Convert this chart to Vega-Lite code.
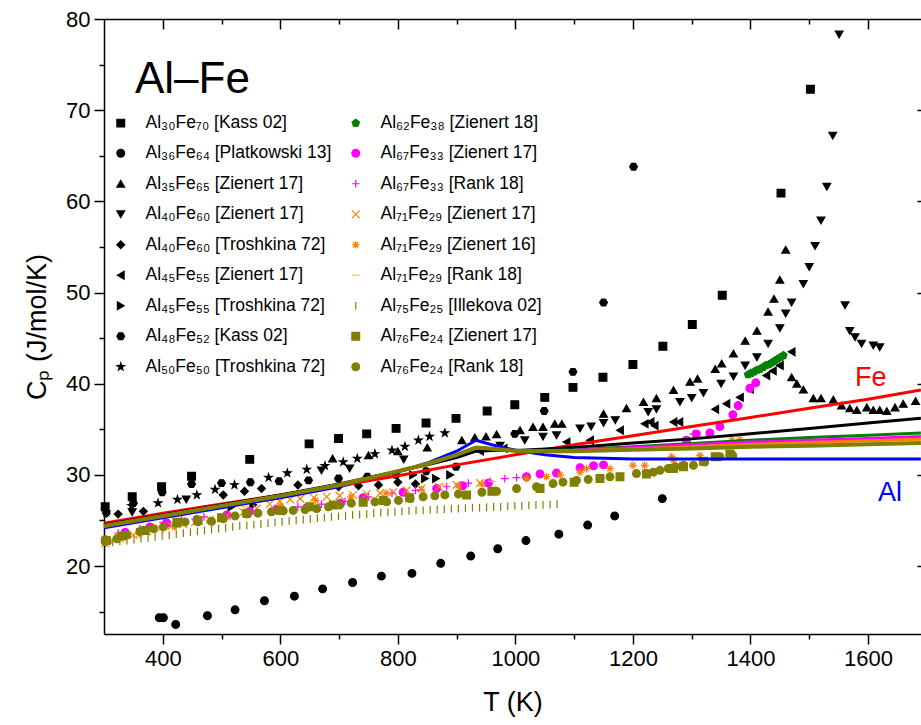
{
  "$schema": "https://vega.github.io/schema/vega-lite/v6.json",
  "width": 817,
  "height": 615,
  "autosize": {"type": "none"},
  "padding": {"left": 104, "top": 19, "right": 0, "bottom": 91},
  "background": "white",
  "config": {
    "view": {"stroke": null},
    "font": "Liberation Sans",
    "axis": {"labelFont": "Liberation Sans", "titleFont": "Liberation Sans", "labelColor": "black", "titleColor": "black", "domainColor": "black", "tickColor": "black", "domainWidth": 1.5, "tickWidth": 1.5, "grid": false, "titleFontWeight": "normal"},
    "text": {"font": "Liberation Sans"}
  },
  "datasets": {
    "pts": [
      {"s":"a","T":302,"Cp":26.5},{"s":"a","T":348,"Cp":27.6},{"s":"a","T":398,"Cp":28.7},{"s":"a","T":449,"Cp":29.85},{"s":"a","T":548,"Cp":31.7},{"s":"a","T":649,"Cp":33.4},{"s":"a","T":699,"Cp":34.0},{"s":"a","T":747,"Cp":34.5},{"s":"a","T":797,"Cp":35.1},{"s":"a","T":848,"Cp":35.7},{"s":"a","T":899,"Cp":36.2},{"s":"a","T":952,"Cp":37.0},{"s":"a","T":999,"Cp":37.7},{"s":"a","T":1050,"Cp":38.5},{"s":"a","T":1098,"Cp":39.6},{"s":"a","T":1149,"Cp":40.7},{"s":"a","T":1200,"Cp":42.1},{"s":"a","T":1251,"Cp":44.1},{"s":"a","T":1301,"Cp":46.5},{"s":"a","T":1352,"Cp":49.7},{"s":"a","T":1452,"Cp":60.9},{"s":"a","T":1502,"Cp":72.3},
      {"s":"b","T":394,"Cp":14.34},{"s":"b","T":401,"Cp":14.34},{"s":"b","T":422,"Cp":13.6},{"s":"b","T":476,"Cp":14.56},{"s":"b","T":523,"Cp":15.2},{"s":"b","T":573,"Cp":16.2},{"s":"b","T":624,"Cp":16.7},{"s":"b","T":672,"Cp":17.5},{"s":"b","T":723,"Cp":18.2},{"s":"b","T":772,"Cp":18.9},{"s":"b","T":824,"Cp":19.2},{"s":"b","T":873,"Cp":20.3},{"s":"b","T":924,"Cp":21.1},{"s":"b","T":970,"Cp":21.9},{"s":"b","T":1018,"Cp":22.8},{"s":"b","T":1074,"Cp":23.5},{"s":"b","T":1123,"Cp":24.5},{"s":"b","T":1169,"Cp":25.5},{"s":"b","T":1250,"Cp":27.4},
      {"s":"c","T":689,"Cp":31.8},{"s":"c","T":750,"Cp":32.15},{"s":"c","T":800,"Cp":32.6},{"s":"c","T":850,"Cp":33.0},{"s":"c","T":909,"Cp":33.8},{"s":"c","T":931,"Cp":34.1},{"s":"c","T":950,"Cp":34.2},{"s":"c","T":968,"Cp":34.45},{"s":"c","T":1008,"Cp":34.9},{"s":"c","T":1030,"Cp":35.25},{"s":"c","T":1047,"Cp":35.25},{"s":"c","T":1067,"Cp":35.6},{"s":"c","T":1079,"Cp":35.6},{"s":"c","T":1150,"Cp":36.7},{"s":"c","T":1189,"Cp":37.3},{"s":"c","T":1218,"Cp":38.0},{"s":"c","T":1240,"Cp":38.4},{"s":"c","T":1269,"Cp":39.3},{"s":"c","T":1297,"Cp":40.2},{"s":"c","T":1310,"Cp":40.55},{"s":"c","T":1340,"Cp":41.6},{"s":"c","T":1351,"Cp":42.2},{"s":"c","T":1371,"Cp":43.3},{"s":"c","T":1391,"Cp":44.7},{"s":"c","T":1411,"Cp":45.8},{"s":"c","T":1430,"Cp":47.9},{"s":"c","T":1440,"Cp":49.3},{"s":"c","T":1450,"Cp":51.4},{"s":"c","T":1460,"Cp":54.7},{"s":"c","T":1470,"Cp":40.7},{"s":"c","T":1479,"Cp":40.0},{"s":"c","T":1490,"Cp":39.35},{"s":"c","T":1507,"Cp":38.4},{"s":"c","T":1520,"Cp":38.4},{"s":"c","T":1541,"Cp":38.25},{"s":"c","T":1555,"Cp":37.6},{"s":"c","T":1569,"Cp":37.3},{"s":"c","T":1581,"Cp":37.1},{"s":"c","T":1598,"Cp":37.4},{"s":"c","T":1609,"Cp":37.1},{"s":"c","T":1620,"Cp":37.1},{"s":"c","T":1632,"Cp":37.0},{"s":"c","T":1646,"Cp":37.4},{"s":"c","T":1660,"Cp":37.8},{"s":"c","T":1681,"Cp":38.1},
      {"s":"d","T":348,"Cp":25.9},{"s":"d","T":440,"Cp":27.3},{"s":"d","T":670,"Cp":30.5},{"s":"d","T":718,"Cp":30.7},{"s":"d","T":810,"Cp":31.7},{"s":"d","T":974,"Cp":33.2},{"s":"d","T":1016,"Cp":33.8},{"s":"d","T":1047,"Cp":34.2},{"s":"d","T":1070,"Cp":34.35},{"s":"d","T":1110,"Cp":35.1},{"s":"d","T":1129,"Cp":35.3},{"s":"d","T":1150,"Cp":35.7},{"s":"d","T":1170,"Cp":36.0},{"s":"d","T":1226,"Cp":36.9},{"s":"d","T":1240,"Cp":37.2},{"s":"d","T":1280,"Cp":38.0},{"s":"d","T":1300,"Cp":38.45},{"s":"d","T":1320,"Cp":39.0},{"s":"d","T":1350,"Cp":40.0},{"s":"d","T":1371,"Cp":40.8},{"s":"d","T":1391,"Cp":42.0},{"s":"d","T":1411,"Cp":42.9},{"s":"d","T":1430,"Cp":44.4},{"s":"d","T":1450,"Cp":46.1},{"s":"d","T":1460,"Cp":47.7},{"s":"d","T":1470,"Cp":48.9},{"s":"d","T":1490,"Cp":50.95},{"s":"d","T":1500,"Cp":52.8},{"s":"d","T":1510,"Cp":55.1},{"s":"d","T":1520,"Cp":57.9},{"s":"d","T":1530,"Cp":61.6},{"s":"d","T":1540,"Cp":67.2},{"s":"d","T":1551,"Cp":78.3},{"s":"d","T":1561,"Cp":48.6},{"s":"d","T":1569,"Cp":45.8},{"s":"d","T":1578,"Cp":45.1},{"s":"d","T":1589,"Cp":44.4},{"s":"d","T":1609,"Cp":44.2},{"s":"d","T":1620,"Cp":44.0},
      {"s":"e","T":304,"Cp":25.8},{"s":"e","T":324,"Cp":25.7},{"s":"e","T":367,"Cp":26.0},{"s":"e","T":503,"Cp":27.8},{"s":"e","T":539,"Cp":28.2},{"s":"e","T":568,"Cp":28.5},{"s":"e","T":630,"Cp":28.9},{"s":"e","T":699,"Cp":28.7},{"s":"e","T":733,"Cp":28.8},{"s":"e","T":767,"Cp":28.9},{"s":"e","T":800,"Cp":29.2},{"s":"e","T":830,"Cp":29.0},
      {"s":"f","T":940,"Cp":32.6},{"s":"f","T":980,"Cp":32.9},{"s":"f","T":1087,"Cp":33.6},{"s":"f","T":1127,"Cp":33.8},{"s":"f","T":1178,"Cp":34.9},{"s":"f","T":1220,"Cp":35.6},{"s":"f","T":1230,"Cp":35.8},{"s":"f","T":1237,"Cp":35.4},{"s":"f","T":1269,"Cp":35.8},{"s":"f","T":1279,"Cp":35.8},{"s":"f","T":1340,"Cp":37.2},{"s":"f","T":1359,"Cp":37.8},{"s":"f","T":1382,"Cp":38.5},{"s":"f","T":1399,"Cp":39.4},{"s":"f","T":1427,"Cp":40.9},{"s":"f","T":1438,"Cp":41.4},{"s":"f","T":1450,"Cp":42.0},{"s":"f","T":1470,"Cp":43.5},
      {"s":"g","T":517,"Cp":26.5},{"s":"g","T":554,"Cp":26.7},{"s":"g","T":826,"Cp":30.0},{"s":"g","T":846,"Cp":29.6},{"s":"g","T":865,"Cp":29.6},{"s":"g","T":889,"Cp":30.0},
      {"s":"h","T":350,"Cp":26.9},{"s":"h","T":399,"Cp":28.1},{"s":"h","T":449,"Cp":29.0},{"s":"h","T":500,"Cp":29.1},{"s":"h","T":549,"Cp":29.2},{"s":"h","T":598,"Cp":29.3},{"s":"h","T":648,"Cp":29.4},{"s":"h","T":699,"Cp":29.6},{"s":"h","T":748,"Cp":29.8},{"s":"h","T":797,"Cp":30.0},{"s":"h","T":848,"Cp":30.4},{"s":"h","T":899,"Cp":30.9},{"s":"h","T":999,"Cp":34.5},{"s":"h","T":1049,"Cp":37.0},{"s":"h","T":1098,"Cp":41.3},{"s":"h","T":1150,"Cp":48.9},{"s":"h","T":1201,"Cp":63.8},
      {"s":"i","T":304,"Cp":25.9},{"s":"i","T":347,"Cp":26.6},{"s":"i","T":392,"Cp":26.9},{"s":"i","T":425,"Cp":27.3},{"s":"i","T":458,"Cp":27.8},{"s":"i","T":489,"Cp":28.4},{"s":"i","T":522,"Cp":28.9},{"s":"i","T":580,"Cp":29.7},{"s":"i","T":612,"Cp":30.2},{"s":"i","T":645,"Cp":30.6},{"s":"i","T":676,"Cp":31.0},{"s":"i","T":707,"Cp":31.4},{"s":"i","T":731,"Cp":31.8},{"s":"i","T":761,"Cp":32.3},{"s":"i","T":790,"Cp":32.7},{"s":"i","T":812,"Cp":33.1},{"s":"i","T":835,"Cp":33.8},{"s":"i","T":854,"Cp":34.2},{"s":"i","T":880,"Cp":34.6},
      {"s":"j","T":1396,"Cp":41.0},{"s":"j","T":1401,"Cp":41.15},{"s":"j","T":1406,"Cp":41.3},{"s":"j","T":1411,"Cp":41.5},{"s":"j","T":1416,"Cp":41.6},{"s":"j","T":1421,"Cp":41.8},{"s":"j","T":1426,"Cp":42.0},{"s":"j","T":1431,"Cp":42.1},{"s":"j","T":1436,"Cp":42.3},{"s":"j","T":1441,"Cp":42.5},{"s":"j","T":1446,"Cp":42.7},{"s":"j","T":1451,"Cp":42.9},{"s":"j","T":1456,"Cp":43.1},
      {"s":"k","T":302,"Cp":22.9},{"s":"k","T":336,"Cp":23.7},{"s":"k","T":378,"Cp":24.3},{"s":"k","T":407,"Cp":24.7},{"s":"k","T":458,"Cp":25.1},{"s":"k","T":509,"Cp":25.6},{"s":"k","T":548,"Cp":26.0},{"s":"k","T":594,"Cp":26.2},{"s":"k","T":645,"Cp":26.4},{"s":"k","T":702,"Cp":26.9},{"s":"k","T":741,"Cp":27.5},{"s":"k","T":809,"Cp":28.1},{"s":"k","T":866,"Cp":28.5},{"s":"k","T":910,"Cp":28.8},{"s":"k","T":954,"Cp":29.1},{"s":"k","T":1019,"Cp":29.8},{"s":"k","T":1042,"Cp":30.1},{"s":"k","T":1070,"Cp":30.2},{"s":"k","T":1110,"Cp":30.8},{"s":"k","T":1133,"Cp":31.0},{"s":"k","T":1150,"Cp":31.1},{"s":"k","T":1291,"Cp":33.8},{"s":"k","T":1308,"Cp":34.5},{"s":"k","T":1331,"Cp":34.6},{"s":"k","T":1348,"Cp":35.3},{"s":"k","T":1370,"Cp":36.6},{"s":"k","T":1379,"Cp":37.6},{"s":"k","T":1399,"Cp":39.5},{"s":"k","T":1409,"Cp":40.1},
      {"s":"l","T":324,"Cp":23.6},{"s":"l","T":361,"Cp":24.1},{"s":"l","T":401,"Cp":24.8},{"s":"l","T":432,"Cp":25.1},{"s":"l","T":470,"Cp":25.4},{"s":"l","T":510,"Cp":25.7},{"s":"l","T":550,"Cp":26.0},{"s":"l","T":590,"Cp":26.3},{"s":"l","T":630,"Cp":26.5},{"s":"l","T":670,"Cp":26.8},{"s":"l","T":710,"Cp":27.1},{"s":"l","T":750,"Cp":27.6},{"s":"l","T":790,"Cp":28.0},{"s":"l","T":830,"Cp":28.3},{"s":"l","T":883,"Cp":28.7},{"s":"l","T":920,"Cp":29.1},{"s":"l","T":957,"Cp":29.3},{"s":"l","T":982,"Cp":29.6},{"s":"l","T":1002,"Cp":29.7},{"s":"l","T":1303,"Cp":34.5},{"s":"l","T":1348,"Cp":35.3},
      {"s":"m","T":302,"Cp":22.5},{"s":"m","T":327,"Cp":23.0},{"s":"m","T":350,"Cp":23.4},{"s":"m","T":373,"Cp":23.8},{"s":"m","T":395,"Cp":24.1},{"s":"m","T":415,"Cp":24.4},{"s":"m","T":435,"Cp":24.6},{"s":"m","T":455,"Cp":24.8},{"s":"m","T":480,"Cp":25.1},{"s":"m","T":509,"Cp":25.5},{"s":"m","T":537,"Cp":25.9},{"s":"m","T":560,"Cp":26.3},{"s":"m","T":582,"Cp":26.8},{"s":"m","T":599,"Cp":27.1},{"s":"m","T":617,"Cp":27.3},{"s":"m","T":634,"Cp":27.4},{"s":"m","T":657,"Cp":27.5},{"s":"m","T":679,"Cp":27.6},{"s":"m","T":701,"Cp":27.7},{"s":"m","T":724,"Cp":27.8},{"s":"m","T":747,"Cp":27.9},{"s":"m","T":770,"Cp":28.0},{"s":"m","T":792,"Cp":28.1},{"s":"m","T":815,"Cp":28.3},{"s":"m","T":840,"Cp":28.5},{"s":"m","T":870,"Cp":28.7},{"s":"m","T":900,"Cp":28.9},{"s":"m","T":940,"Cp":29.1},
      {"s":"n","T":310,"Cp":22.7},{"s":"n","T":360,"Cp":23.5},{"s":"n","T":420,"Cp":24.3},{"s":"n","T":480,"Cp":25.0},{"s":"n","T":540,"Cp":25.8},{"s":"n","T":600,"Cp":26.6},{"s":"n","T":660,"Cp":27.2},{"s":"n","T":720,"Cp":27.6},{"s":"n","T":780,"Cp":28.0},{"s":"n","T":840,"Cp":28.4},{"s":"n","T":903,"Cp":28.8},{"s":"n","T":943,"Cp":29.0},{"s":"n","T":1019,"Cp":29.6},{"s":"n","T":1053,"Cp":29.8},{"s":"n","T":1076,"Cp":30.0},{"s":"n","T":1110,"Cp":30.3},{"s":"n","T":1121,"Cp":30.7},{"s":"n","T":1161,"Cp":30.7},{"s":"n","T":1200,"Cp":31.05},{"s":"n","T":1220,"Cp":31.05},{"s":"n","T":1266,"Cp":32.0},{"s":"n","T":1269,"Cp":31.6},{"s":"n","T":1314,"Cp":32.15},{"s":"n","T":1368,"Cp":33.8},{"s":"n","T":1382,"Cp":33.9},
      {"s":"o","T":540,"Cp":26.5},{"s":"o","T":880,"Cp":28.9},{"s":"o","T":960,"Cp":29.3},
      {"s":"p","T":303,"Cp":22.5},{"s":"p","T":315,"Cp":22.6},{"s":"p","T":327,"Cp":22.7},{"s":"p","T":339,"Cp":22.8},{"s":"p","T":351,"Cp":22.9},{"s":"p","T":363,"Cp":23.0},{"s":"p","T":375,"Cp":23.1},{"s":"p","T":387,"Cp":23.2},{"s":"p","T":399,"Cp":23.3},{"s":"p","T":411,"Cp":23.4},{"s":"p","T":423,"Cp":23.5},{"s":"p","T":435,"Cp":23.6},{"s":"p","T":447,"Cp":23.7},{"s":"p","T":459,"Cp":23.8},{"s":"p","T":471,"Cp":23.9},{"s":"p","T":483,"Cp":24.0},{"s":"p","T":495,"Cp":24.1},{"s":"p","T":507,"Cp":24.2},{"s":"p","T":519,"Cp":24.3},{"s":"p","T":531,"Cp":24.4},{"s":"p","T":543,"Cp":24.45},{"s":"p","T":555,"Cp":24.55},{"s":"p","T":567,"Cp":24.6},{"s":"p","T":579,"Cp":24.7},{"s":"p","T":591,"Cp":24.8},{"s":"p","T":603,"Cp":24.85},{"s":"p","T":615,"Cp":24.95},{"s":"p","T":627,"Cp":25.0},{"s":"p","T":639,"Cp":25.1},{"s":"p","T":651,"Cp":25.15},{"s":"p","T":663,"Cp":25.25},{"s":"p","T":675,"Cp":25.3},{"s":"p","T":687,"Cp":25.4},{"s":"p","T":699,"Cp":25.45},{"s":"p","T":711,"Cp":25.5},{"s":"p","T":723,"Cp":25.6},{"s":"p","T":735,"Cp":25.65},{"s":"p","T":747,"Cp":25.7},{"s":"p","T":759,"Cp":25.8},{"s":"p","T":771,"Cp":25.85},{"s":"p","T":783,"Cp":25.9},{"s":"p","T":795,"Cp":25.95},{"s":"p","T":807,"Cp":26.0},{"s":"p","T":819,"Cp":26.05},{"s":"p","T":831,"Cp":26.1},{"s":"p","T":843,"Cp":26.1},{"s":"p","T":855,"Cp":26.15},{"s":"p","T":867,"Cp":26.2},{"s":"p","T":879,"Cp":26.25},{"s":"p","T":891,"Cp":26.3},{"s":"p","T":903,"Cp":26.3},{"s":"p","T":915,"Cp":26.35},{"s":"p","T":927,"Cp":26.4},{"s":"p","T":939,"Cp":26.4},{"s":"p","T":951,"Cp":26.45},{"s":"p","T":963,"Cp":26.5},{"s":"p","T":975,"Cp":26.5},{"s":"p","T":987,"Cp":26.55},{"s":"p","T":999,"Cp":26.6},{"s":"p","T":1011,"Cp":26.6},{"s":"p","T":1023,"Cp":26.65},{"s":"p","T":1035,"Cp":26.7},{"s":"p","T":1047,"Cp":26.7},{"s":"p","T":1059,"Cp":26.75},{"s":"p","T":1071,"Cp":26.8},
      {"s":"q","T":304,"Cp":22.8},{"s":"q","T":330,"Cp":23.3},{"s":"q","T":370,"Cp":23.9},{"s":"q","T":424,"Cp":24.8},{"s":"q","T":460,"Cp":25.0},{"s":"q","T":500,"Cp":25.3},{"s":"q","T":543,"Cp":25.8},{"s":"q","T":600,"Cp":26.1},{"s":"q","T":650,"Cp":26.5},{"s":"q","T":690,"Cp":26.7},{"s":"q","T":741,"Cp":27.0},{"s":"q","T":775,"Cp":27.2},{"s":"q","T":820,"Cp":27.5},{"s":"q","T":917,"Cp":27.8},{"s":"q","T":960,"Cp":28.2},{"s":"q","T":1042,"Cp":28.5},{"s":"q","T":1100,"Cp":29.2},{"s":"q","T":1144,"Cp":29.6},{"s":"q","T":1178,"Cp":29.8},{"s":"q","T":1223,"Cp":30.1},{"s":"q","T":1269,"Cp":30.7},{"s":"q","T":1286,"Cp":30.9},{"s":"q","T":1320,"Cp":31.5},{"s":"q","T":1340,"Cp":32.0},{"s":"q","T":1365,"Cp":32.3},
      {"s":"r","T":302,"Cp":22.7},{"s":"r","T":322,"Cp":23.0},{"s":"r","T":339,"Cp":23.4},{"s":"r","T":361,"Cp":23.8},{"s":"r","T":384,"Cp":24.1},{"s":"r","T":401,"Cp":24.3},{"s":"r","T":424,"Cp":24.7},{"s":"r","T":438,"Cp":24.85},{"s":"r","T":460,"Cp":24.85},{"s":"r","T":483,"Cp":24.9},{"s":"r","T":503,"Cp":25.2},{"s":"r","T":523,"Cp":25.5},{"s":"r","T":543,"Cp":25.7},{"s":"r","T":562,"Cp":25.8},{"s":"r","T":585,"Cp":25.95},{"s":"r","T":605,"Cp":26.05},{"s":"r","T":622,"Cp":26.1},{"s":"r","T":642,"Cp":26.2},{"s":"r","T":662,"Cp":26.3},{"s":"r","T":682,"Cp":26.5},{"s":"r","T":701,"Cp":26.7},{"s":"r","T":721,"Cp":26.9},{"s":"r","T":741,"Cp":27.05},{"s":"r","T":761,"Cp":27.05},{"s":"r","T":781,"Cp":27.05},{"s":"r","T":801,"Cp":27.2},{"s":"r","T":821,"Cp":27.4},{"s":"r","T":843,"Cp":27.6},{"s":"r","T":863,"Cp":27.7},{"s":"r","T":880,"Cp":27.8},{"s":"r","T":903,"Cp":27.9},{"s":"r","T":943,"Cp":28.1},{"s":"r","T":968,"Cp":28.2},{"s":"r","T":1002,"Cp":28.5},{"s":"r","T":1036,"Cp":28.7},{"s":"r","T":1064,"Cp":29.05},{"s":"r","T":1081,"Cp":29.2},{"s":"r","T":1104,"Cp":29.4},{"s":"r","T":1124,"Cp":29.5},{"s":"r","T":1144,"Cp":29.6},{"s":"r","T":1161,"Cp":29.8},{"s":"r","T":1206,"Cp":30.15},{"s":"r","T":1223,"Cp":30.15},{"s":"r","T":1235,"Cp":30.3},{"s":"r","T":1246,"Cp":30.5},{"s":"r","T":1260,"Cp":30.7},{"s":"r","T":1272,"Cp":30.9},{"s":"r","T":1286,"Cp":31.05},{"s":"r","T":1303,"Cp":31.05},{"s":"r","T":1322,"Cp":31.4},{"s":"r","T":1348,"Cp":32.0},{"s":"r","T":1370,"Cp":32.15}
    ],
    "lines": [
      {"ln":"Al","T":300,"Cp":24.2},{"ln":"Al","T":400,"Cp":25.3},{"ln":"Al","T":500,"Cp":26.4},{"ln":"Al","T":600,"Cp":27.5},{"ln":"Al","T":700,"Cp":28.7},{"ln":"Al","T":800,"Cp":30.3},{"ln":"Al","T":850,"Cp":31.3},{"ln":"Al","T":900,"Cp":32.6},{"ln":"Al","T":933,"Cp":33.8},{"ln":"Al","T":960,"Cp":33.3},{"ln":"Al","T":1000,"Cp":32.7},{"ln":"Al","T":1050,"Cp":32.2},{"ln":"Al","T":1100,"Cp":31.9},{"ln":"Al","T":1200,"Cp":31.75},{"ln":"Al","T":1400,"Cp":31.75},{"ln":"Al","T":1690,"Cp":31.75},
      {"ln":"Fe","T":300,"Cp":24.7},{"ln":"Fe","T":400,"Cp":25.8},{"ln":"Fe","T":500,"Cp":26.8},{"ln":"Fe","T":600,"Cp":27.8},{"ln":"Fe","T":700,"Cp":28.8},{"ln":"Fe","T":800,"Cp":29.9},{"ln":"Fe","T":900,"Cp":31.1},{"ln":"Fe","T":1000,"Cp":32.2},{"ln":"Fe","T":1100,"Cp":33.3},{"ln":"Fe","T":1200,"Cp":34.3},{"ln":"Fe","T":1300,"Cp":35.3},{"ln":"Fe","T":1400,"Cp":36.3},{"ln":"Fe","T":1500,"Cp":37.3},{"ln":"Fe","T":1600,"Cp":38.3},{"ln":"Fe","T":1690,"Cp":39.3},
      {"ln":"blk","T":300,"Cp":24.5},{"ln":"blk","T":400,"Cp":25.6},{"ln":"blk","T":500,"Cp":26.7},{"ln":"blk","T":600,"Cp":27.8},{"ln":"blk","T":700,"Cp":29.0},{"ln":"blk","T":800,"Cp":30.4},{"ln":"blk","T":850,"Cp":31.1},{"ln":"blk","T":900,"Cp":31.9},{"ln":"blk","T":933,"Cp":32.6},{"ln":"blk","T":970,"Cp":32.7},{"ln":"blk","T":1010,"Cp":32.7},{"ln":"blk","T":1100,"Cp":33.0},{"ln":"blk","T":1200,"Cp":33.5},{"ln":"blk","T":1300,"Cp":33.95},{"ln":"blk","T":1400,"Cp":34.5},{"ln":"blk","T":1500,"Cp":35.1},{"ln":"blk","T":1600,"Cp":35.7},{"ln":"blk","T":1690,"Cp":36.2},
      {"ln":"grn","T":300,"Cp":24.4},{"ln":"grn","T":400,"Cp":25.5},{"ln":"grn","T":500,"Cp":26.6},{"ln":"grn","T":600,"Cp":27.7},{"ln":"grn","T":700,"Cp":28.9},{"ln":"grn","T":800,"Cp":30.4},{"ln":"grn","T":850,"Cp":31.2},{"ln":"grn","T":900,"Cp":32.2},{"ln":"grn","T":933,"Cp":33.0},{"ln":"grn","T":970,"Cp":32.8},{"ln":"grn","T":1010,"Cp":32.6},{"ln":"grn","T":1100,"Cp":32.75},{"ln":"grn","T":1200,"Cp":33.1},{"ln":"grn","T":1300,"Cp":33.45},{"ln":"grn","T":1400,"Cp":33.8},{"ln":"grn","T":1500,"Cp":34.1},{"ln":"grn","T":1600,"Cp":34.35},{"ln":"grn","T":1690,"Cp":34.6},
      {"ln":"mag","T":300,"Cp":24.4},{"ln":"mag","T":400,"Cp":25.5},{"ln":"mag","T":500,"Cp":26.6},{"ln":"mag","T":600,"Cp":27.7},{"ln":"mag","T":700,"Cp":28.9},{"ln":"mag","T":800,"Cp":30.4},{"ln":"mag","T":850,"Cp":31.2},{"ln":"mag","T":900,"Cp":32.2},{"ln":"mag","T":933,"Cp":33.0},{"ln":"mag","T":970,"Cp":32.8},{"ln":"mag","T":1010,"Cp":32.6},{"ln":"mag","T":1100,"Cp":32.7},{"ln":"mag","T":1200,"Cp":33.0},{"ln":"mag","T":1300,"Cp":33.3},{"ln":"mag","T":1400,"Cp":33.6},{"ln":"mag","T":1500,"Cp":33.8},{"ln":"mag","T":1600,"Cp":34.0},{"ln":"mag","T":1690,"Cp":34.2},
      {"ln":"org","T":300,"Cp":24.4},{"ln":"org","T":400,"Cp":25.5},{"ln":"org","T":500,"Cp":26.6},{"ln":"org","T":600,"Cp":27.7},{"ln":"org","T":700,"Cp":28.9},{"ln":"org","T":800,"Cp":30.4},{"ln":"org","T":850,"Cp":31.2},{"ln":"org","T":900,"Cp":32.2},{"ln":"org","T":933,"Cp":33.0},{"ln":"org","T":970,"Cp":32.8},{"ln":"org","T":1010,"Cp":32.6},{"ln":"org","T":1100,"Cp":32.65},{"ln":"org","T":1200,"Cp":32.85},{"ln":"org","T":1300,"Cp":33.1},{"ln":"org","T":1400,"Cp":33.35},{"ln":"org","T":1500,"Cp":33.55},{"ln":"org","T":1600,"Cp":33.75},{"ln":"org","T":1690,"Cp":33.9},
      {"ln":"olv","T":300,"Cp":24.4},{"ln":"olv","T":400,"Cp":25.5},{"ln":"olv","T":500,"Cp":26.6},{"ln":"olv","T":600,"Cp":27.7},{"ln":"olv","T":700,"Cp":28.9},{"ln":"olv","T":800,"Cp":30.4},{"ln":"olv","T":850,"Cp":31.2},{"ln":"olv","T":900,"Cp":32.2},{"ln":"olv","T":933,"Cp":33.0},{"ln":"olv","T":970,"Cp":32.8},{"ln":"olv","T":1010,"Cp":32.6},{"ln":"olv","T":1100,"Cp":32.6},{"ln":"olv","T":1200,"Cp":32.75},{"ln":"olv","T":1300,"Cp":32.9},{"ln":"olv","T":1400,"Cp":33.1},{"ln":"olv","T":1500,"Cp":33.2},{"ln":"olv","T":1600,"Cp":33.35},{"ln":"olv","T":1690,"Cp":33.5}
    ]
  },
  "layer": [
    {
      "data": {"name": "pts"},
      "mark": {"type": "point", "filled": true, "opacity": 1, "size": 60, "strokeWidth": 1.2},
      "encoding": {
        "x": {"field": "T", "type": "quantitative", "scale": {"domain": [300, 1690.2], "nice": false, "zero": false},
          "axis": {"orient": "bottom", "values": [400,500,600,700,800,900,1000,1100,1200,1300,1400,1500,1600], "labelExpr": "datum.value % 200 === 0 ? datum.label : ''", "format": "d", "labelOverlap": false,
            "tickSize": {"condition": {"test": "datum.value % 200 === 0", "value": 10}, "value": 5},
            "labelFontSize": 22, "labelPadding": 4, "title": "T (K)", "titleFontSize": 27, "titlePadding": 20}},
        "y": {"field": "Cp", "type": "quantitative", "scale": {"domain": [12.55, 80], "nice": false, "zero": false},
          "axis": {"orient": "left", "values": [15,20,25,30,35,40,45,50,55,60,65,70,75,80], "labelExpr": "datum.value % 10 === 0 ? datum.label : ''", "labelOverlap": false,
            "tickSize": {"condition": {"test": "datum.value % 10 === 0", "value": 10}, "value": 5},
            "labelFontSize": 22, "labelPadding": 4, "title": "Cₚ (J/mol/K)", "titleFontSize": 27, "titlePadding": 14}},
        "color": {"field": "s", "type": "nominal",
          "scale": {"domain": ["a","b","c","d","e","f","g","h","i","j","k","l","m","n","o","p","q","r"],
                    "range": ["#000000","#000000","#000000","#000000","#000000","#000000","#000000","#000000","#000000","#008000","#FF00FF","#FF00FF","#FF8000","#FF8000","#FFB060","#808000","#808000","#808000"]},
          "legend": {"orient": "none", "legendX": 8, "legendY": 95, "columns": 2, "title": null, "padding": 0,
            "labelFont": "Liberation Sans", "labelFontSize": 17.5, "labelColor": "black", "labelLimit": 400, "labelOffset": 16,
            "rowPadding": 11.5, "columnPadding": 15, "symbolSize": 60, "symbolStrokeWidth": 1.2,
            "encode": {"symbols": {"update": {"stroke": {"scale": "color", "field": "value"}, "strokeWidth": {"value": 1.2}}}},
            "labelExpr": "{'a':'Al₃₀Fe₇₀ [Kass 02]','b':'Al₃₆Fe₆₄ [Platkowski 13]','c':'Al₃₅Fe₆₅ [Zienert 17]','d':'Al₄₀Fe₆₀ [Zienert 17]','e':'Al₄₀Fe₆₀ [Troshkina 72]','f':'Al₄₅Fe₅₅ [Zienert 17]','g':'Al₄₅Fe₅₅ [Troshkina 72]','h':'Al₄₈Fe₅₂ [Kass 02]','i':'Al₅₀Fe₅₀ [Troshkina 72]','j':'Al₆₂Fe₃₈ [Zienert 18]','k':'Al₆₇Fe₃₃ [Zienert 17]','l':'Al₆₇Fe₃₃ [Rank 18]','m':'Al₇₁Fe₂₉ [Zienert 17]','n':'Al₇₁Fe₂₉ [Zienert 16]','o':'Al₇₁Fe₂₉ [Rank 18]','p':'Al₇₅Fe₂₅ [Illekova 02]','q':'Al₇₆Fe₂₄ [Zienert 17]','r':'Al₇₆Fe₂₄ [Rank 18]'}[datum.value]"}},
        "stroke": {"field": "s", "type": "nominal", "legend": null,
          "scale": {"domain": ["a","b","c","d","e","f","g","h","i","j","k","l","m","n","o","p","q","r"],
                    "range": ["#000000","#000000","#000000","#000000","#000000","#000000","#000000","#000000","#000000","#008000","#FF00FF","#FF00FF","#FF8000","#FF8000","#FFB060","#808000","#808000","#808000"]}},
        "shape": {"field": "s", "type": "nominal",
          "scale": {"domain": ["a","b","c","d","e","f","g","h","i","j","k","l","m","n","o","p","q","r"],
                    "range": ["square","circle","triangle-up","triangle-down","diamond","triangle-left","triangle-right","M-0.5,-0.866L0.5,-0.866L1,0L0.5,0.866L-0.5,0.866L-1,0Z","M0,-1L0.2245,-0.309L0.951,-0.309L0.363,0.118L0.588,0.809L0,0.382L-0.588,0.809L-0.363,0.118L-0.951,-0.309L-0.2245,-0.309Z","M0,-1L0.951,-0.309L0.588,0.809L-0.588,0.809L-0.951,-0.309Z","circle","M-1,0L1,0M0,-1L0,1","M-1,-1L1,1M-1,1L1,-1","M-1,0L1,0M0,-1L0,1M-0.7,-0.7L0.7,0.7M-0.7,0.7L0.7,-0.7","M-1,0L1,0","M0,-1L0,1","square","circle"]}}
      }
    },
    {
      "data": {"name": "lines"},
      "transform": [{"filter": "datum.ln === 'Al'"}],
      "mark": {"type": "line", "color": "#0000FF", "strokeWidth": 3},
      "encoding": {
        "x": {"field": "T", "type": "quantitative", "scale": {"domain": [300, 1690.2], "nice": false, "zero": false},
          "axis": {"orient": "top", "values": [400,500,600,700,800,900,1000,1100,1200,1300,1400,1500,1600], "labels": false, "title": null,
            "tickSize": {"condition": {"test": "datum.value % 200 === 0", "value": -10}, "value": -5}}},
        "y": {"field": "Cp", "type": "quantitative", "scale": {"domain": [12.55, 80], "nice": false, "zero": false},
          "axis": {"orient": "right", "values": [20,30,40,50,60,70], "labels": false, "title": null, "domain": false, "tickSize": -4}}
      }
    },
    {"data": {"name": "lines"}, "transform": [{"filter": "datum.ln === 'Fe'"}], "mark": {"type": "line", "color": "#FF0000", "strokeWidth": 3},
      "encoding": {"x": {"field": "T", "type": "quantitative", "axis": null}, "y": {"field": "Cp", "type": "quantitative", "axis": null}}},
    {"data": {"name": "lines"}, "transform": [{"filter": "datum.ln === 'blk'"}], "mark": {"type": "line", "color": "#000000", "strokeWidth": 3},
      "encoding": {"x": {"field": "T", "type": "quantitative", "axis": null}, "y": {"field": "Cp", "type": "quantitative", "axis": null}}},
    {"data": {"name": "lines"}, "transform": [{"filter": "datum.ln === 'grn'"}], "mark": {"type": "line", "color": "#008000", "strokeWidth": 3},
      "encoding": {"x": {"field": "T", "type": "quantitative", "axis": null}, "y": {"field": "Cp", "type": "quantitative", "axis": null}}},
    {"data": {"name": "lines"}, "transform": [{"filter": "datum.ln === 'mag'"}], "mark": {"type": "line", "color": "#FF00FF", "strokeWidth": 3},
      "encoding": {"x": {"field": "T", "type": "quantitative", "axis": null}, "y": {"field": "Cp", "type": "quantitative", "axis": null}}},
    {"data": {"name": "lines"}, "transform": [{"filter": "datum.ln === 'org'"}], "mark": {"type": "line", "color": "#FF8000", "strokeWidth": 3},
      "encoding": {"x": {"field": "T", "type": "quantitative", "axis": null}, "y": {"field": "Cp", "type": "quantitative", "axis": null}}},
    {"data": {"name": "lines"}, "transform": [{"filter": "datum.ln === 'olv'"}], "mark": {"type": "line", "color": "#808000", "strokeWidth": 4},
      "encoding": {"x": {"field": "T", "type": "quantitative", "axis": null}, "y": {"field": "Cp", "type": "quantitative", "axis": null}}},
    {"data": {"values": [{}]}, "mark": {"type": "text", "fontSize": 44, "color": "black", "align": "left", "baseline": "alphabetic"},
      "encoding": {"x": {"datum": 352.7, "type": "quantitative", "axis": null}, "y": {"datum": 71.9, "type": "quantitative", "axis": null}, "text": {"value": "Al–Fe"}}},
    {"data": {"values": [{}]}, "mark": {"type": "text", "fontSize": 27, "color": "#FF0000", "align": "left", "baseline": "alphabetic"},
      "encoding": {"x": {"datum": 1578, "type": "quantitative", "axis": null}, "y": {"datum": 39.8, "type": "quantitative", "axis": null}, "text": {"value": "Fe"}}},
    {"data": {"values": [{}]}, "mark": {"type": "text", "fontSize": 27, "color": "#0000FF", "align": "left", "baseline": "alphabetic"},
      "encoding": {"x": {"datum": 1617, "type": "quantitative", "axis": null}, "y": {"datum": 27.1, "type": "quantitative", "axis": null}, "text": {"value": "Al"}}}
  ],
  "resolve": {"axis": {"x": "independent", "y": "independent"}}
}
